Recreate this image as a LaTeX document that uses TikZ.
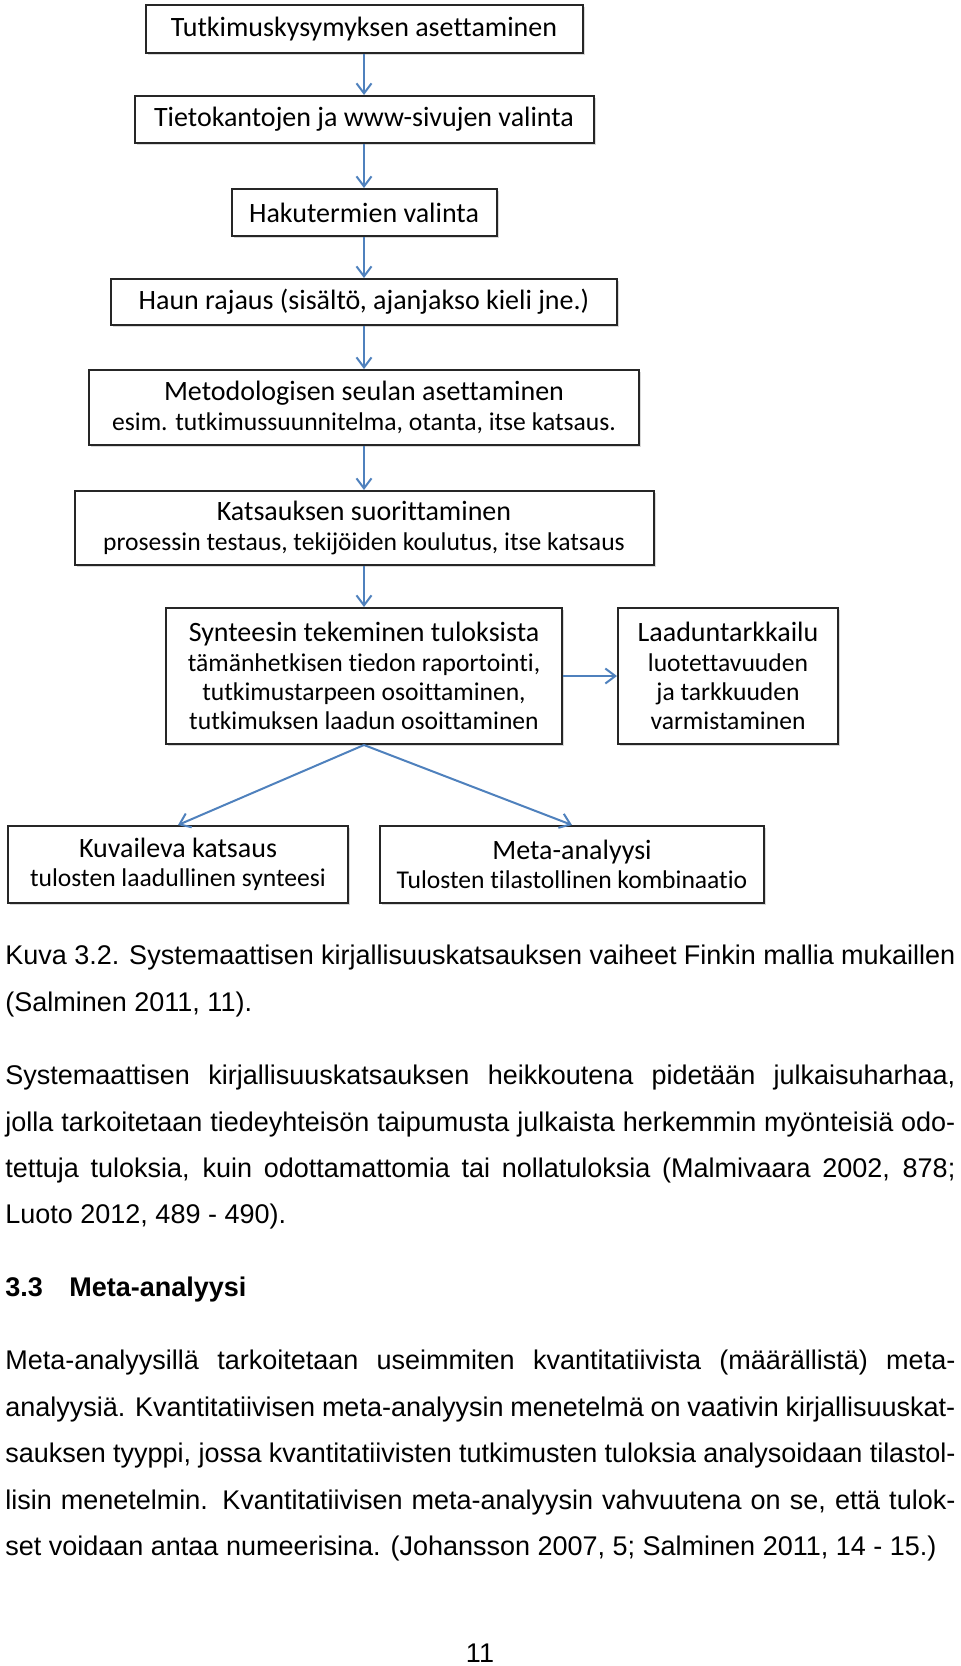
\documentclass[tikz,border=0pt]{standalone}
\usepackage{fontspec}
\setmainfont{Liberation Sans}
\newfontfamily\calibri[Ligatures=NoCommon]{Carlito}
\usetikzlibrary{arrows.meta,shadows}
\definecolor{nuolensini}{RGB}{79,129,189}
\newcommand{\rivi}[1]{\makebox[475pt][s]{#1}}
\newcommand{\tarkenne}[1]{{\fontsize{12.8}{14.6}\selectfont #1}}

\begin{document}
\begin{tikzpicture}[x=0.5pt, y=-0.5pt,
  laatikko/.style={draw=black!85, line width=1pt, fill=white, inner sep=0pt, align=center,
    font=\calibri\fontsize{14}{14.6}\selectfont,
    drop shadow={shadow xshift=1pt, shadow yshift=-1pt, fill=black!25, opacity=0.6}},
  nuoli/.style={draw=nuolensini, line width=1pt, -{Straight Barb[length=5pt, width=7.5pt]}},
  teksti/.style={anchor=base west, inner sep=0pt, font=\fontsize{13.5}{16}\selectfont}]
\useasboundingbox (0,0) rectangle (960,1666);

% Flowchart boxes
\node[laatikko, minimum width=218.5pt, minimum height=24pt] (kysymys) at (364,29) {Tutkimuskysymyksen asettaminen};
\node[laatikko, minimum width=229.5pt, minimum height=23.5pt] (tietokannat) at (364,119.5) {Tietokantojen ja www-sivujen valinta};
\node[laatikko, minimum width=132.5pt, minimum height=23.5pt] (hakutermit) at (364,212.5) {Hakutermien valinta};
\node[laatikko, minimum width=253pt, minimum height=23pt] (rajaus) at (364,302) {Haun rajaus (sisältö, ajanjakso kieli jne.)};
\node[laatikko, minimum width=275pt, minimum height=37.5pt] (seula) at (364,407.5) {Metodologisen seulan asettaminen\\\tarkenne{esim. tutkimussuunnitelma, otanta, itse katsaus.}};
\node[laatikko, minimum width=289.5pt, minimum height=37pt] (suoritus) at (364,528) {Katsauksen suorittaminen\\\tarkenne{prosessin testaus, tekijöiden koulutus, itse katsaus}};
\node[laatikko, minimum width=198pt, minimum height=68pt] (synteesi) at (364,676) {Synteesin tekeminen tuloksista\\\tarkenne{tämänhetkisen tiedon raportointi,}\\\tarkenne{tutkimustarpeen osoittaminen,}\\\tarkenne{tutkimuksen laadun osoittaminen}};
\node[laatikko, minimum width=110pt, minimum height=68pt] (laatu) at (728,676) {Laaduntarkkailu\\\tarkenne{luotettavuuden}\\\tarkenne{ja tarkkuuden}\\\tarkenne{varmistaminen}};
\node[laatikko, minimum width=170pt, minimum height=38.5pt] (kuvaileva) at (178,864.5) {Kuvaileva katsaus\\\tarkenne{tulosten laadullinen synteesi}};
\node[laatikko, minimum width=192pt, minimum height=38.5pt] (meta) at (572,864.5) {Meta-analyysi\\\tarkenne{Tulosten tilastollinen kombinaatio}};

% Arrows
\draw[nuoli] (kysymys) -- (tietokannat);
\draw[nuoli] (tietokannat) -- (hakutermit);
\draw[nuoli] (hakutermit) -- (rajaus);
\draw[nuoli] (rajaus) -- (seula);
\draw[nuoli] (seula) -- (suoritus);
\draw[nuoli] (suoritus) -- (synteesi);
\draw[nuoli] (synteesi) -- (laatu);
\draw[nuoli] (synteesi.south) -- (kuvaileva.north);
\draw[nuoli] (synteesi.south) -- (meta.north);

% Caption
\node[teksti] (kuva1) at (5,964) {\rivi{Kuva 3.2. Systemaattisen kirjallisuuskatsauksen vaiheet Finkin mallia mukaillen}};
\node[teksti] (kuva2) at (5,1011) {(Salminen 2011, 11).};

% Paragraph
\node[teksti] (kpl1a) at (5,1084) {\rivi{Systemaattisen kirjallisuuskatsauksen heikkoutena pidetään julkaisuharhaa,}};
\node[teksti] (kpl1b) at (5,1131) {\rivi{jolla tarkoitetaan tiedeyhteisön taipumusta julkaista herkemmin myönteisiä odo-}};
\node[teksti] (kpl1c) at (5,1177) {\rivi{tettuja tuloksia, kuin odottamattomia tai nollatuloksia (Malmivaara 2002, 878;}};
\node[teksti] (kpl1d) at (5,1223) {Luoto 2012, 489 - 490).};

% Heading
\node[teksti] (otsikkonro) at (5,1296) {\textbf{3.3}};
\node[teksti] (otsikko) at (69,1296) {\textbf{Meta-analyysi}};

% Paragraph
\node[teksti] (kpl2a) at (5,1369) {\rivi{Meta-analyysillä tarkoitetaan useimmiten kvantitatiivista (määrällistä) meta-}};
\node[teksti] (kpl2b) at (5,1416) {\rivi{analyysiä. Kvantitatiivisen meta-analyysin menetelmä on vaativin kirjallisuuskat-}};
\node[teksti] (kpl2c) at (5,1462) {\rivi{sauksen tyyppi, jossa kvantitatiivisten tutkimusten tuloksia analysoidaan tilastol-}};
\node[teksti] (kpl2d) at (5,1509) {\rivi{lisin menetelmin. Kvantitatiivisen meta-analyysin vahvuutena on se, että tulok-}};
\node[teksti] (kpl2e) at (5,1555) {set voidaan antaa numeerisina. (Johansson 2007, 5; Salminen 2011, 14 - 15.)};

% Page number
\node[teksti, anchor=base] (sivu) at (480,1662) {11};
\end{tikzpicture}
\end{document}
